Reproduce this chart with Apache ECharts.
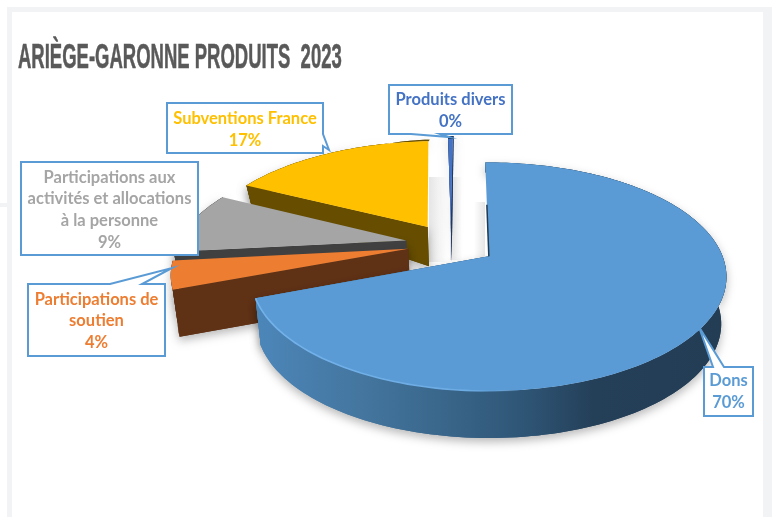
<!DOCTYPE html>
<html><head><meta charset="utf-8">
<style>html,body{margin:0;padding:0;background:#fff}#c{width:772px;height:517px}</style>
<script src="https://cdn.jsdelivr.net/npm/echarts@6/dist/echarts.min.js"></script></head>
<body><div id="c"></div>
<script>
// clockwise from the top
const categories = ['Dons','Participations de\nsoutien','Participations aux\nactivités et allocations\nà la personne','Subventions France','Produits divers'];
const values = [69.5, 4.1, 9.0, 17.0, 0.4];
const titleText = 'ARIÈGE-GARONNE PRODUITS  2023';
const drawOrder = [4,3,2,1,0];

const topColors  = ['#5b9bd5','#ed7d31','#a5a5a5','#ffc000','#4472c4'];
const wallColors = ['#2f5575','#5f3115','#404040','#664d00','#1f3864'];
const textColors = ['#5b9bd5','#ed7d31','#a5a5a5','#ffc000','#4472c4'];
const explodes   = [0.2, 0.188, 0.2, 0.2, 0.2];

// callout frames: box x0,y0,x1,y1, tail edge, tail points, text centre y
const callouts = [
  {box:[704,367,753,416], edge:'top',   tail:[[724,367],[699,327],[713,367]], cy:392},
  {box:[28,284,165,356],  edge:'top',   tail:[[142,284],[172,268],[110,284]], cy:321},
  {box:[21,162,198,255],  edge:null,    tail:[], cy:210},
  {box:[167,103,323,153], edge:'right', tail:[[323,134],[329,150],[323,146]], cy:130},
  {box:[389,85,512,134],  edge:'bottom',tail:[[440,134],[449,137],[411,134]], cy:111}
];

// view of the pie plane
const view = {ax:488, ay:257, sx:234, sy:110.8, b:0.179, cu:-0.162, cv:-0.118, start:-1};

function project(u,v){
  const U=u+view.cu, V=v+view.cv, d=1-view.b*V;
  return [view.ax+view.sx*U/d, view.ay+view.sy*V/d, V];
}
function lower(p){
  const h=Math.min(47,20+41*(p[2]+0.758));
  return [p[0]+(view.ax-p[0])*0.022, p[1]+h];
}
const total = values.reduce((a,b)=>a+b,0);
function sliceGeom(i){
  let acc=0; for(let k=0;k<i;k++) acc+=values[k];
  const a0=view.start+acc/total*360, a1=a0+values[i]/total*360;
  const mid=(a0+a1)/2*Math.PI/180;
  const ou=explodes[i]*Math.sin(mid), ov=-explodes[i]*Math.cos(mid);
  const rim=[]; const n=Math.max(2,Math.ceil((a1-a0)/1.5));
  for(let k=0;k<=n;k++){
    const t=(a0+(a1-a0)*k/n)*Math.PI/180;
    rim.push(project(ou+Math.sin(t),ov-Math.cos(t)));
  }
  return {apex:project(ou,ov),rim};
}
const xy=p=>[p[0],p[1]];

function softBand(x0,x1,y0,y1,fromLeft){
  return {type:'rect',shape:{x:x0,y:y0,width:x1-x0,height:y1-y0},silent:true,
    style:{fill:new echarts.graphic.LinearGradient(fromLeft?0:1,0,fromLeft?1:0,0,
      [{offset:0,color:'rgba(190,190,190,0.4)'},{offset:1,color:'rgba(190,190,190,0)'}])}};
}

function renderSlice(params,api){
  const i=api.value(0), g=sliceGeom(i), kids=[];
  if(i===4){
    kids.push(softBand(429,447,177,262,true));
    kids.push(softBand(450,462,177,260,true));
    kids.push(softBand(474,485,202,258,false));
  }
  const rimTop=g.rim.map(xy), rimLow=g.rim.map(lower);
  const fillWall = i===0
    ? new echarts.graphic.LinearGradient(257,0,726,0,[
        {offset:0,color:'#4c86b9'},{offset:0.22,color:'#44769f'},{offset:0.42,color:'#386488'},
        {offset:0.58,color:'#2e5474'},{offset:0.72,color:'#243f58'},{offset:1,color:'#233d55'}],true)
    : wallColors[i];
  const first=g.rim[0], last=g.rim[g.rim.length-1];
  const faces=[{points:rimTop.concat(rimLow.slice().reverse()),fill:fillWall}];
  const faceOf=p=>[xy(g.apex),xy(p),lower(p),lower(g.apex)];
  if(i===0){
    faces.push({points:faceOf(last),fill:fillWall});
  } else {
    faces.push({points:faceOf(first),fill:wallColors[i]});
    if(i===4) faces.push({points:faceOf(last),fill:wallColors[i]});
  }
  // soft shadow pass, then the clean walls over it
  const shadow={shadowBlur:10,shadowColor:'rgba(0,0,0,0.28)',shadowOffsetY:4};
  faces.forEach(f=>kids.push({type:'polygon',shape:{points:f.points},style:Object.assign({fill:f.fill},shadow)}));
  faces.forEach(f=>kids.push({type:'polygon',shape:{points:f.points},style:{fill:f.fill}}));
  kids.push({type:'polygon',shape:{points:[xy(g.apex)].concat(rimTop)},style:{fill:topColors[i]}});
  if(i===0){
    kids.push({type:'polyline',shape:{points:rimTop.slice(Math.floor(rimTop.length*0.45))},
      style:{fill:null,lineWidth:1.6,stroke:new echarts.graphic.LinearGradient(257,0,520,0,[
        {offset:0,color:'#73b2ea'},{offset:0.8,color:'#6cabe3'},{offset:1,color:'rgba(91,155,213,0)'}],true)}});
    const a=xy(g.apex), f=xy(first), m=[a[0]+(f[0]-a[0])*0.55,a[1]+(f[1]-a[1])*0.55];
    kids.push({type:'polyline',shape:{points:[m,a]},style:{fill:null,lineWidth:1.5,stroke:'#1f3a52'}});
  }
  return {type:'group',children:kids};
}

function calloutPoints(c){
  const [x0,y0,x1,y1]=c.box, pts=[[x0,y0]];
  if(c.edge==='top') pts.push(...c.tail.slice().reverse());
  pts.push([x1,y0]);
  if(c.edge==='right') pts.push(...c.tail);
  pts.push([x1,y1]);
  if(c.edge==='bottom') pts.push(...c.tail);
  pts.push([x0,y1]);
  return pts;
}
function renderCallout(params,api){
  const i=api.value(0), c=callouts[i];
  const pct=Math.round(values[i]/total*100);
  return {type:'group',children:[
    {type:'polygon',shape:{points:calloutPoints(c)},style:{fill:'#fff',stroke:'#5b9bd5',lineWidth:2,lineJoin:'miter'}},
    {type:'text',style:{text:categories[i]+'\n'+pct+'%',x:(c.box[0]+c.box[2])/2,y:c.cy,align:'center',verticalAlign:'middle',
      fill:textColors[i],font:'bold 16.5px Lato, "Open Sans", sans-serif',lineHeight:21.7}}
  ]};
}

const band='#f2f3f5';
const chart=echarts.init(document.getElementById('c'),null,{renderer:'canvas'});
chart.setOption({
  animation:false,
  backgroundColor:'#ffffff',
  graphic:[
    {type:'rect',shape:{x:7,y:7,width:765,height:5},style:{fill:band},silent:true},
    {type:'rect',shape:{x:7,y:7,width:5,height:510},style:{fill:band},silent:true},
    {type:'rect',shape:{x:763,y:7,width:9,height:510},style:{fill:band},silent:true},
    {type:'rect',shape:{x:0,y:203,width:7,height:4},style:{fill:band},silent:true},
    {type:'text',x:18,y:41,scaleX:0.578,scaleY:1.07,style:{text:titleText,fill:'#595959',stroke:'#595959',lineWidth:0.5,
      font:'bold 32px "Liberation Sans", sans-serif'}}
  ],
  series:[
    {type:'custom',coordinateSystem:'none',z:2,clip:false,silent:true,renderItem:renderSlice,
     data:drawOrder.map(i=>({name:categories[i],value:[i,values[i]]}))},
    {type:'custom',coordinateSystem:'none',z:3,clip:false,silent:true,renderItem:renderCallout,
     data:drawOrder.map(i=>({name:categories[i],value:[i,values[i]]}))}
  ]
});
</script></body></html>
